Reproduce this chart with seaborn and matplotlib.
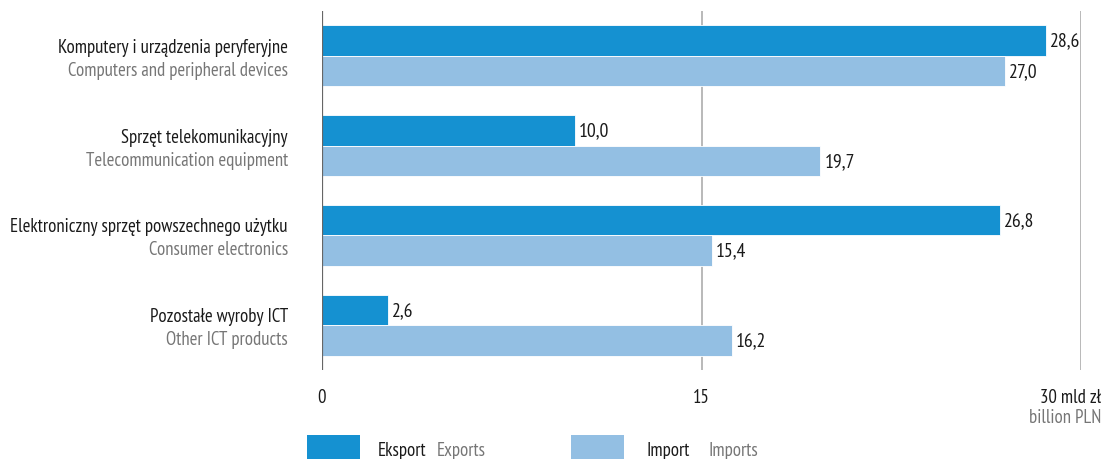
import matplotlib
matplotlib.use("Agg")
import matplotlib.pyplot as plt
from matplotlib import font_manager as fm
import seaborn as sns
import pandas as pd
from matplotlib.patches import Rectangle

# Data (mld zł)
categories_pl = [
    "Komputery i urządzenia peryferyjne",
    "Sprzęt telekomunikacyjny",
    "Elektroniczny sprzęt powszechnego użytku",
    "Pozostałe wyroby ICT",
]
categories_en = [
    "Computers and peripheral devices",
    "Telecommunication equipment",
    "Consumer electronics",
    "Other ICT products",
]
export_values = [28.6, 10.0, 26.8, 2.6]
import_values = [27.0, 19.7, 15.4, 16.2]
series_names = ["Eksport", "Import"]
series_names_en = ["Exports", "Imports"]
x_ticks = [0, 15, 30]

EXPORT_COLOR = "#1591d1"
IMPORT_COLOR = "#93bfe3"
DARK = "#1a1a1a"
GREY = "#767676"

sns.set_theme(style="white")


def pick_font(candidates):
    for name in candidates:
        try:
            fm.findfont(fm.FontProperties(family=name), fallback_to_default=False)
            return name
        except ValueError:
            continue
    return "DejaVu Sans"


FONT = pick_font(["PT Sans Narrow", "Roboto Condensed", "Open Sans Condensed"])
plt.rcParams["font.family"] = [FONT, "DejaVu Sans"]
FS = 13.5
FS_VAL = 14.2

df = pd.DataFrame({
    "kategoria": categories_pl * 2,
    "seria": [series_names[0]] * 4 + [series_names[1]] * 4,
    "wartosc": export_values + import_values,
})

W, H = 1103, 460
fig = plt.figure(figsize=(W / 100, H / 100), dpi=100)
ax_left, ax_right = 322 / W, 1081 / W
ax_top, ax_bottom = 1 - 12 / H, 1 - 371 / H
ax = fig.add_axes([ax_left, ax_bottom, ax_right - ax_left, ax_top - ax_bottom])

sns.barplot(
    data=df, y="kategoria", x="wartosc", hue="seria", orient="h",
    palette=[EXPORT_COLOR, IMPORT_COLOR], saturation=1, width=0.68, gap=0,
    edgecolor="white", linewidth=0.6, legend=False, ax=ax,
)

ax.set_xlim(0, 30)
ax.set_ylim(3.5, -0.5)
ax.set_xlabel("")
ax.set_ylabel("")
ax.set_yticks([])
ax.set_xticks([])
for s in ax.spines.values():
    s.set_visible(False)

# Vertical grid lines
for xv in x_ticks:
    ax.axvline(xv, color="#666666" if xv == 0 else "#b3b3b3",
               linewidth=1.6 if xv == 0 else 1.3, zorder=0 if xv else 3)

# Value labels
for cont in ax.containers:
    ax.bar_label(cont, labels=[f"{v:.1f}".replace(".", ",") for v in cont.datavalues],
                 padding=3, fontsize=FS_VAL, color=DARK)

# Category labels (Polish / English)
for i, (pl, en) in enumerate(zip(categories_pl, categories_en)):
    ax.annotate(pl, xy=(0, i), xycoords="data", xytext=(-24.5, 2.9),
                textcoords="offset points", ha="right", va="baseline",
                fontsize=FS, color=DARK)
    ax.annotate(en, xy=(0, i), xycoords="data", xytext=(-24.5, -13.7),
                textcoords="offset points", ha="right", va="baseline",
                fontsize=FS, color=GREY)

# X axis labels
tick_y = 1 - 398 / H
for xv in x_ticks[:2]:
    xf = ax_left + (ax_right - ax_left) * xv / 30
    fig.text(xf, tick_y, str(xv), ha="center", va="center", fontsize=FS, color=DARK)
fig.text(1101 / W, tick_y, f"{x_ticks[2]} mld zł", ha="right", va="center",
         fontsize=FS, color=DARK)
fig.text(1101 / W, 1 - 418 / H, "billion PLN", ha="right", va="center",
         fontsize=FS, color=GREY)

# Legend
legend_items = [
    (EXPORT_COLOR, series_names[0], series_names_en[0], 307, 378, 437),
    (IMPORT_COLOR, series_names[1], series_names_en[1], 571, 647, 709),
]
for color, pl, en, bx, tx1, tx2 in legend_items:
    fig.add_artist(Rectangle((bx / W, 0), 53 / W, 24 / H, transform=fig.transFigure,
                             facecolor=color, edgecolor="none"))
    fig.text(tx1 / W, 1 - 451 / H, pl, ha="left", va="center", fontsize=FS, color=DARK)
    fig.text(tx2 / W, 1 - 451 / H, en, ha="left", va="center", fontsize=FS, color=GREY)

fig.savefig("out.png", dpi=100, facecolor="white")
